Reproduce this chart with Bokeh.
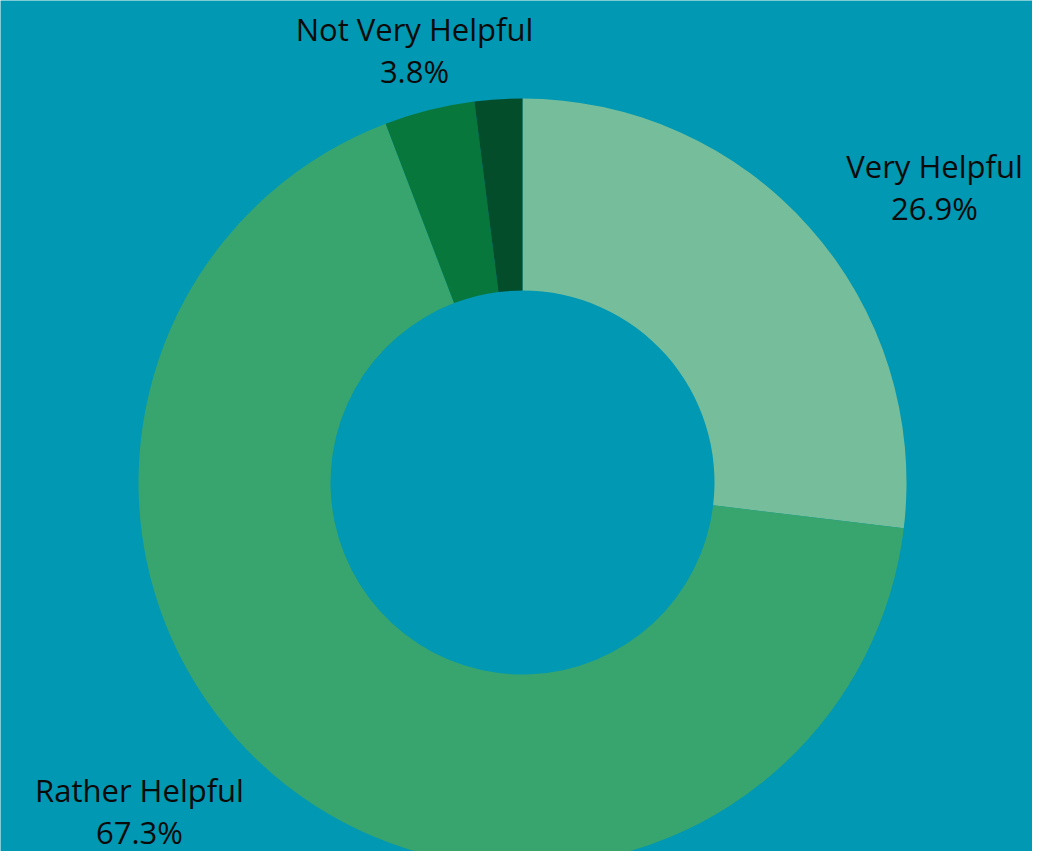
import math
from bokeh.plotting import figure
from bokeh.models import Range1d, ColumnDataSource
from bokeh.core.properties import value
from bokeh.embed import file_html
from bokeh.resources import INLINE

categories = ["Very Helpful", "Rather Helpful", "Not Very Helpful", ""]
shares = [26.9, 67.3, 3.8, 2.0]
pct_labels = ["26.9%", "67.3%", "3.8%", ""]
colors = ["#76BE9B", "#38A56F", "#08773C", "#034D2A"]

W, H = 1032, 851
BG = "#0098B2"

p = figure(width=W, height=H, output_backend="svg", toolbar_location=None,
           x_range=Range1d(0, W), y_range=Range1d(0, H), min_border=0)
p.axis.visible = False
p.grid.visible = False
p.outline_line_color = None
p.background_fill_color = BG
p.border_fill_color = BG

cx, cy = 522, H - 482
total = sum(shares)
starts, ends = [], []
a = math.pi / 2
for s in shares:
    starts.append(a)
    a -= s / total * 2 * math.pi
    ends.append(a)

src = ColumnDataSource(dict(start=starts, end=ends, color=colors, cat=categories))
p.annular_wedge(x=cx, y=cy, inner_radius=192, outer_radius=384,
                start_angle="end", end_angle="start", fill_color="color",
                line_color=None, source=src)

# label anchor positions (px from top-left) for the three labelled slices
label_pos = [(934, 165), (139, 789), (414, 28)]
lx, ly1, ly2, t1, t2 = [], [], [], [], []
for i, (sx, sy) in enumerate(label_pos):
    lx.append(sx)
    ly1.append(H - sy)
    ly2.append(H - (sy + 42))
    t1.append(categories[i])
    t2.append(pct_labels[i])

p.text(x=lx, y=ly1, text=t1, text_align="center", text_baseline="middle",
       text_font=value("Open Sans"), text_font_size="31px", text_color="#0A0A0A")
p.text(x=lx, y=ly2, text=t2, text_align="center", text_baseline="middle",
       text_font=value("Open Sans"), text_font_size="31px", text_color="#0A0A0A")

open("out.html", "w").write(file_html(p, INLINE))
